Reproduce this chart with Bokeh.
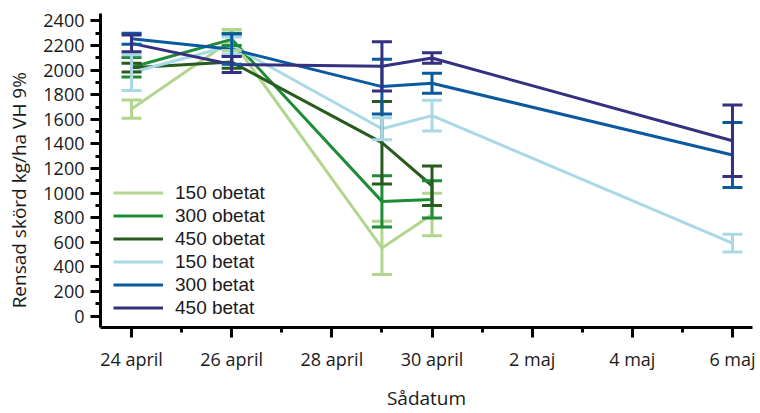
import pandas as pd
from bokeh.plotting import figure
from bokeh.models import (ColumnDataSource, Whisker, TeeHead, Legend, LegendItem,
                          FixedTicker, SingleIntervalTicker, Range1d)
from bokeh.embed import file_html
from bokeh.resources import INLINE

# ---- data ----
dates_obetat = ["2013-04-24", "2013-04-26", "2013-04-29", "2013-04-30"]
dates_betat = ["2013-04-24", "2013-04-26", "2013-04-29", "2013-04-30", "2013-05-06"]

obetat150 = [1683, 2245, 555, 827]
obetat150_err = [74, 85, 217, 173]
obetat300 = [2023, 2250, 933, 949]
obetat300_err = [80, 50, 208, 151]
obetat450 = [2020, 2065, 1410, 1060]
obetat450_err = [35, 50, 335, 160]
betat150 = [1980, 2200, 1523, 1630, 593]
betat150_err = [145, 70, 90, 124, 72]
betat300 = [2255, 2170, 1866, 1893, 1310]
betat300_err = [45, 123, 223, 81, 264]
betat450 = [2217, 2045, 2031, 2098, 1426]
betat450_err = [68, 65, 200, 43, 290]

series_names = ["150 obetat", "300 obetat", "450 obetat", "150 betat", "300 betat", "450 betat"]
series_colors = ["#b3d68e", "#1e8c36", "#2a5a1f", "#a9d8e6", "#0b5aa0", "#35307f"]

tick_dates = ["2013-04-24", "2013-04-26", "2013-04-28", "2013-04-30",
              "2013-05-02", "2013-05-04", "2013-05-06"]
tick_labels = ["24 april", "26 april", "28 april", "30 april", "2 maj", "4 maj", "6 maj"]
minor_dates = ["2013-04-25", "2013-04-27", "2013-04-29", "2013-05-01",
               "2013-05-03", "2013-05-05"]
y_title = "Rensad skörd kg/ha VH 9%"
x_title = "Sådatum"

def ms(d):
    return pd.Timestamp(d).value / 1e6

DAY = 86400000.0

p = figure(width=760, height=413, x_axis_type="datetime",
           output_backend="svg", toolbar_location=None,
           x_range=Range1d(ms("2013-04-24") - 0.62 * DAY, ms("2013-05-06") + 0.4 * DAY),
           y_range=Range1d(-92, 2460),
           min_border_left=100, min_border_right=8, min_border_top=13, min_border_bottom=85)
p.outline_line_color = None
p.xgrid.visible = False
p.ygrid.visible = False
p.background_fill_color = "white"

all_data = [
    (dates_obetat, obetat150, obetat150_err),
    (dates_obetat, obetat300, obetat300_err),
    (dates_obetat, obetat450, obetat450_err),
    (dates_betat, betat150, betat150_err),
    (dates_betat, betat300, betat300_err),
    (dates_betat, betat450, betat450_err),
]

items = []
for name, color, (ds, vals, errs) in zip(series_names, series_colors, all_data):
    src = ColumnDataSource(dict(
        x=pd.to_datetime(ds),
        y=vals,
        upper=[v + e for v, e in zip(vals, errs)],
        lower=[v - e for v, e in zip(vals, errs)],
    ))
    r = p.line("x", "y", source=src, line_color=color, line_width=3)
    w = Whisker(base="x", upper="upper", lower="lower", source=src,
                line_color=color, line_width=3, level="glyph",
                upper_head=TeeHead(size=20, line_color=color, line_width=3),
                lower_head=TeeHead(size=20, line_color=color, line_width=3))
    p.add_layout(w)
    items.append(LegendItem(label=name, renderers=[r]))

legend = Legend(items=items, location=(13, 8), padding=0, margin=0,
                border_line_color=None, background_fill_alpha=0,
                glyph_width=50, glyph_height=23, label_height=23, spacing=0,
                label_standoff=12, label_text_font="Liberation Sans",
                label_text_font_size="19px", label_text_color="#1a1a1a")
p.add_layout(legend)

# axes styling
for ax in (p.xaxis[0], p.yaxis[0]):
    ax.axis_line_width = 3
    ax.axis_line_color = "black"
    ax.major_tick_line_width = 3
    ax.minor_tick_line_width = 3
    ax.major_tick_in = 0
    ax.minor_tick_in = 0
    ax.major_tick_out = 10
    ax.minor_tick_out = 5
    ax.major_label_text_font = "Open Sans"
    ax.major_label_text_font_size = "18px"
    ax.major_label_text_color = "#1a1a1a"
    ax.axis_label_text_font = "Open Sans"
    ax.axis_label_text_font_size = "19px"
    ax.axis_label_text_font_style = "normal"
    ax.axis_label_text_color = "#1a1a1a"

p.xaxis.ticker = FixedTicker(ticks=[ms(d) for d in tick_dates],
                             minor_ticks=[ms(d) for d in minor_dates])
p.xaxis.major_label_overrides = {ms(d): lab for d, lab in zip(tick_dates, tick_labels)}
p.xaxis.axis_label = x_title
p.xaxis.major_label_standoff = 9
p.xaxis.axis_label_standoff = 11

p.yaxis.ticker = SingleIntervalTicker(interval=200, num_minor_ticks=2)
p.yaxis.axis_label = y_title + "\u00a0" * 8
p.yaxis.major_label_standoff = 6
p.yaxis.axis_label_standoff = 8

open("out.html", "w").write(file_html(p, INLINE))
